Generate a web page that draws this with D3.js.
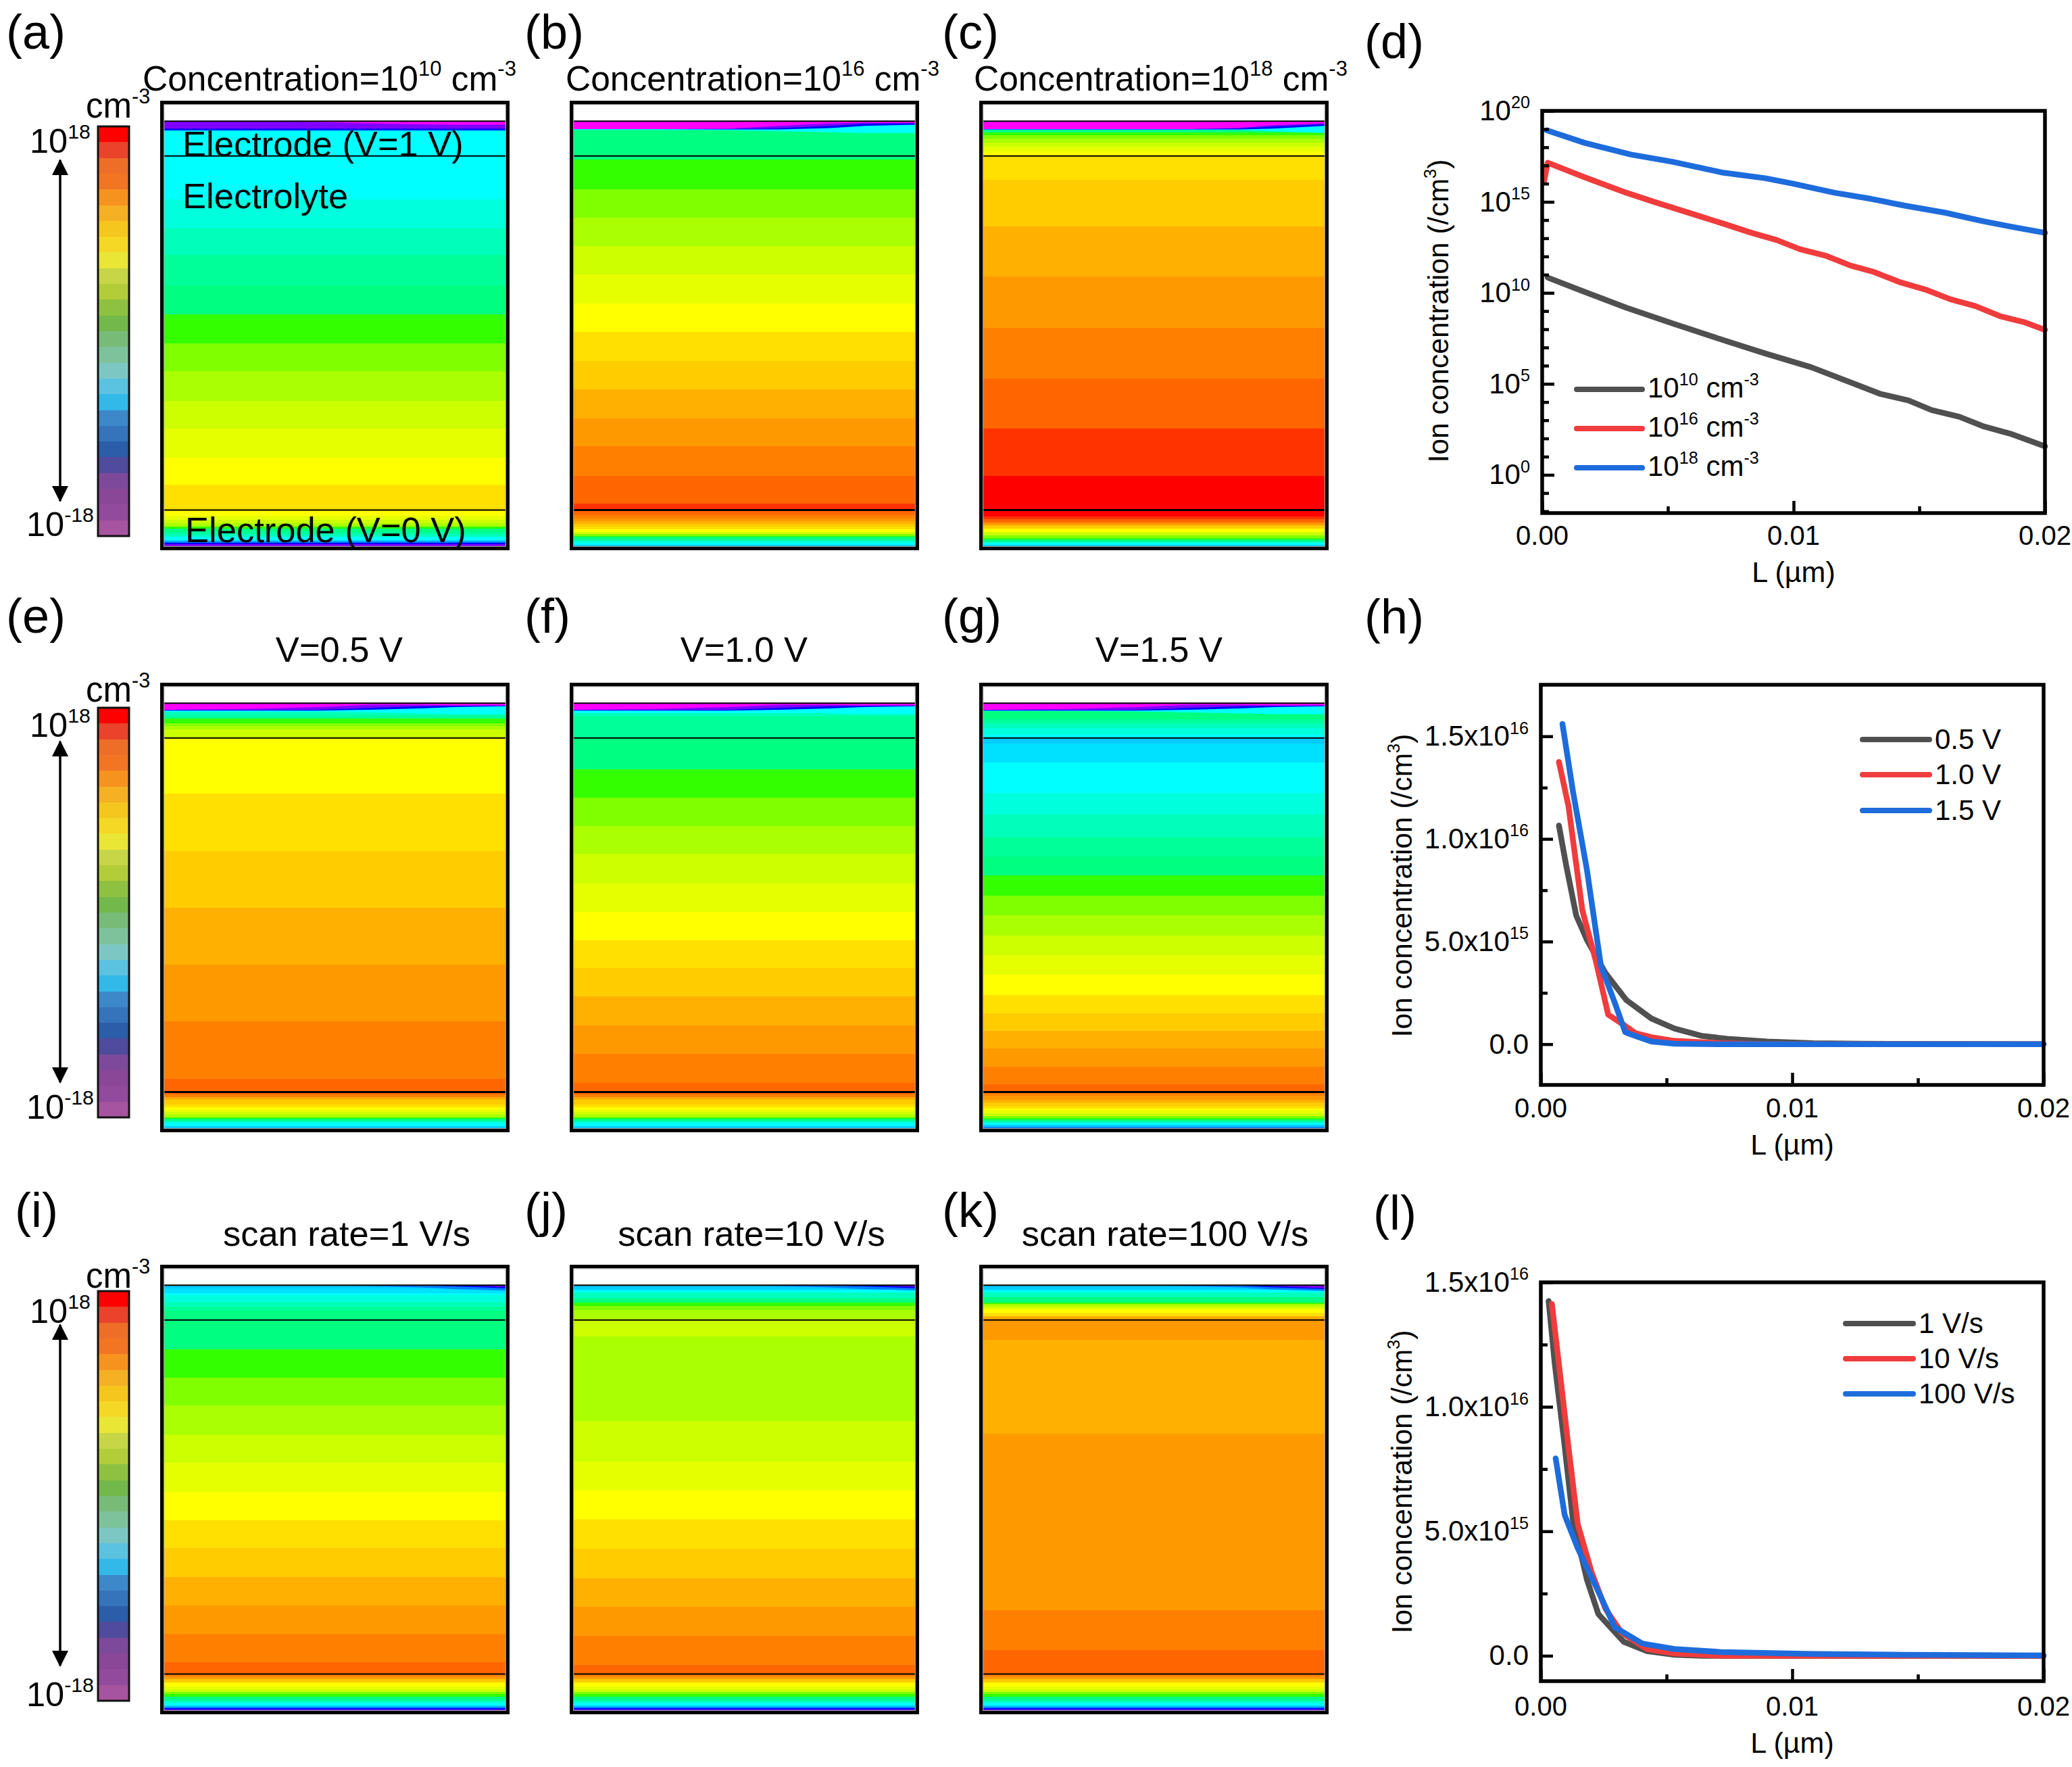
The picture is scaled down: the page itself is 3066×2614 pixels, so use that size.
<!DOCTYPE html>
<meta charset="utf-8">
<style>
html, body { margin: 0; background: #fff; }
text { font-family: "Liberation Sans", Arial, sans-serif; fill: #000; }
.band { shape-rendering: crispEdges; }
</style>
<body>
<script src="https://d3js.org/d3.v7.min.js"></script>
<script>
// contour levels of the simulation maps, red (high) to magenta (low)
var levels = ["#ff0000","#ff3300","#ff6600","#ff8000","#ff9900","#ffb000","#ffcc00","#ffe000","#ffff00",
    "#e6ff00","#ccff00","#aaff00","#80ff00","#33ff00","#00ff80","#00ff99","#00ffbb","#00ffdd","#00ffff",
    "#00e0ff","#00ccff","#0080ff","#0000ff","#8000ff","#ff00ff"];

// colour bar, top to bottom
var colorbar = ["#ff0000","#e9432a","#ef6e27","#f27524","#f6931f","#f5b024","#f5c61e","#f5d726","#e9e636",
    "#c6d646","#b3cd38","#8fc140","#72b84a","#78bb78","#7cc39c","#7cc7c4","#5bc2e0","#32b9ea","#3d88c8",
    "#3574ba","#2a5ea8","#4f4b9d","#7d4a9b","#8a4798","#924a9c","#a6549f"];

// bands in the maps: [depth where the band ends (% of cell height), level]
var tailA = [[93.1,8],[94,9],[94.8,10],[95.5,11],[96,13],[96.6,14],[97.2,15],[97.8,16],[98.6,18],[99,20],[99.3,21],[99.6,22],[100,23]];
var tailB = [[93,2],[93.7,3],[94.4,4],[95,5],[95.6,6],[96.2,7],[96.8,8],[97.3,10],[97.7,12],[97.9,13],[98.4,14],[98.8,15],[99.2,17],[99.7,18],[100,20]];
var tailC = [[93.3,0],[93.9,1],[94.6,2],[95.3,4],[96,6],[96.8,8],[97.6,10],[98.2,12],[98.5,13],[98.9,14],[99.3,16],[99.7,18],[100,20]];
var tailE = [[92.3,2],[92.9,3],[93.6,5],[94.6,6],[95.2,7],[95.8,8],[96.4,9],[97,10],[97.6,11],[97.8,13],[98.1,14],[98.5,15],[99,17],[99.5,18],[100,20]];
var tailG = [[92.6,3],[93.5,4],[94.2,5],[95,6],[95.5,7],[96,8],[96.6,9],[97.2,10],[97.7,12],[98,13],[98.4,14],[98.8,16],[99.3,18],[99.7,20],[100,21]];
var tailJ = [[92.4,3],[93,4],[93.7,6],[94.7,8],[95.3,9],[95.8,10],[96.4,12],[97,13],[97.5,14],[98,15],[98.4,17],[98.9,18],[99.3,20],[99.6,21],[99.8,22],[100,23]];

var bandsA = [[21.4,18],[28,17],[34,16],[41,15],[47.5,14],[54,13],[60.3,12],[67,11],[73.4,10],[80,9],[86,8],[92,7]].concat(tailA);
var bandsB = [[12.4,14],[19.2,13],[25.5,12],[32,11],[38.5,10],[45,9],[51.4,8],[58,7],[64.4,6],[71,5],[77.4,4],[84,3],[90.4,2],[91.8,1]].concat(tailB);
var bandsC = [[6.3,14],[6.9,13],[7.6,12],[8.5,11],[9.5,10],[10.5,9],[11.7,8],[17,7],[27.5,6],[38.9,5],[50.5,4],[62,3],[73.4,2],[84,1],[91.8,0]].concat(tailC);
var bandsE = [[5.7,18],[6.5,16],[7.2,15],[8.2,13],[8.9,12],[9.7,11],[11.6,10],[24.2,8],[37.2,7],[50,6],[62.9,5],[75.8,4],[88.8,3],[91.8,2]].concat(tailE);
var bandsF = [[6,18],[6.6,16],[11.6,15],[18.7,14],[25.1,13],[31.5,12],[37.9,11],[44.6,10],[51,9],[57.5,8],[63.7,7],[70.2,6],[76.7,5],[83.1,4],[89.7,3],[91.8,2]].concat(tailE);
var bandsG = [[7.3,14],[8.3,15],[9.3,16],[10.9,17],[11.6,18],[12.9,20],[17.2,19],[24,18],[29,17],[34,16],[38.4,15],[42.8,14],[47.3,13],[51.8,12],[56.3,11],[60.8,10],[65.3,9],[69.8,8],[74,7],[78,6],[82,5],[86,4],[90,3],[91.8,2]].concat(tailG);
var bandsI = [[4.5,20],[5.5,19],[6,18],[7.5,17],[8.5,16],[9.5,15],[18.2,14],[24.7,13],[31,12],[37.6,11],[44,10],[50.5,9],[56.9,8],[63.3,7],[69.8,6],[76.2,5],[82.7,4],[89.1,3],[91.8,2]].concat(tailJ);
var bandsJ = [[4.7,20],[5.3,18],[6.7,16],[7.7,14],[8.4,13],[9.4,12],[11.4,11],[15.3,10],[34.5,11],[43.6,10],[50.3,9],[56.8,8],[63.4,7],[70.1,6],[76.5,5],[83.1,4],[89.7,3],[91.9,2]].concat(tailJ);
var bandsK = [[4.7,20],[5.3,18],[6.4,16],[7.6,14],[7.9,13],[8.4,11],[9.1,10],[10,8],[10.7,7],[11.4,5],[16.1,4],[37.4,5],[77.3,4],[86.4,3],[91.9,2]].concat(tailJ);

// top electrode wedges: [level, depth of the layer at each wedgeX]
var wedgeX = [0, 0.25, 0.45, 0.6, 0.75, 0.85, 1];
var topA = [[21,[5.9,5.9,5.9,5.9,5.9,5.9,5.9]],[22,[5.7,5.7,5.7,5.7,5.7,5.7,5.7]],[23,[5.4,5.4,5.4,5.4,5.4,5.4,5.4]],[24,[3.7,3.7,3.9,4.2,4.4,4.5,4.5]]];
var topB = [[18,[5.7,5.7,5.8,6,6.2,6.4,6.4]],[22,[5.5,5.5,5.6,5.6,5.3,4.8,4.5]],[23,[5.5,5.5,5.5,5.3,4.8,4.3,4.2]],[24,[5.5,5.5,5.4,4.8,4.2,4.1,4.1]]];
var topC = [[18,[5.7,5.7,5.7,5.7,5.7,6,6.4]],[22,[5.6,5.6,5.6,5.6,5.6,5.4,4.8]],[23,[5.5,5.5,5.5,5.5,5.4,4.9,4.4]],[24,[5.5,5.5,5.5,5.5,5.2,4.6,4.2]]];
var topE = [[18,[5.5,5.5,5.6,5.8,6,6.2,6.2]],[22,[5.4,5.4,5.4,5.2,4.9,4.6,4.4]],[23,[5.3,5.3,5.2,4.8,4.4,4.3,4.2]],[24,[5.2,5,4.6,4.1,4.1,4.2,4.2]]];
var topI = [[21,[3.7,3.7,3.7,3.9,4.2,4.6,4.9]],[22,[3.7,3.7,3.7,3.7,3.7,4,4.4]],[23,[3.7,3.7,3.7,3.7,3.7,3.7,4.1]]];
var topK = [[21,[3.7,3.7,3.7,3.9,4.2,4.7,5]],[22,[3.7,3.7,3.7,3.7,3.8,4.2,4.6]],[23,[3.7,3.7,3.7,3.7,3.7,3.9,4.4]]];

var mapLabels = ["a","b","c","e","f","g","i","j","k"];
var mapBands = [bandsA,bandsB,bandsC,bandsE,bandsF,bandsG,bandsI,bandsJ,bandsK];
var mapTops = [topA,topB,topC,topE,topE,topE,topI,topI,topK];
var mapTitles = ["Concentration=10^{10} cm^{-3}","Concentration=10^{16} cm^{-3}","Concentration=10^{18} cm^{-3}",
    "V=0.5 V","V=1.0 V","V=1.5 V","scan rate=1 V/s","scan rate=10 V/s","scan rate=100 V/s"];

// line plots. d: [L, log10 of concentration]; h and l: [L, concentration /1e15]
var d10 = [[0.00022,10.84],[0.00151,10.15],[0.00335,9.18],[0.00519,8.32],[0.00703,7.48],[0.00887,6.67],[0.01071,5.91],[0.01255,4.93],[0.01347,4.44],[0.01457,4.09],[0.01549,3.56],[0.0166,3.19],[0.01752,2.68],[0.01862,2.26],[0.02,1.57]];
var d16 = [[0.00007,16.1],[0.00022,17.15],[0.00169,16.35],[0.00335,15.5],[0.00445,15],[0.00537,14.6],[0.00629,14.2],[0.00721,13.8],[0.00832,13.3],[0.00933,12.9],[0.01025,12.4],[0.01126,12.05],[0.01227,11.5],[0.01319,11.15],[0.0142,10.6],[0.01531,10.15],[0.01623,9.65],[0.01724,9.27],[0.01825,8.7],[0.01917,8.39],[0.02,7.97]];
var d18 = [[0.00018,18.93],[0.00169,18.24],[0.00353,17.6],[0.00519,17.2],[0.00721,16.6],[0.00887,16.3],[0.00997,16],[0.01163,15.5],[0.0131,15.16],[0.01439,14.8],[0.01604,14.4],[0.01752,13.94],[0.0188,13.6],[0.02,13.3]];
var h05 = [[0.00072,10.65],[0.00101,8.7],[0.00141,6.26],[0.00183,5.09],[0.00257,3.47],[0.0034,2.15],[0.0044,1.25],[0.00532,0.76],[0.00642,0.4],[0.00752,0.25],[0.00899,0.13],[0.01083,0.05],[0.0127,0.02],[0.02,0]];
var h10 = [[0.00072,13.75],[0.0011,11.6],[0.00165,6.53],[0.0022,4],[0.00268,1.44],[0.0033,0.94],[0.00376,0.54],[0.0044,0.34],[0.00532,0.16],[0.00716,0.05],[0.00899,0],[0.02,0]];
var h15 = [[0.00086,15.6],[0.00128,12.3],[0.00183,8.52],[0.00239,3.83],[0.00294,2.02],[0.00336,0.58],[0.00385,0.36],[0.0044,0.13],[0.00532,0.02],[0.00716,0],[0.02,0]];
var l1 = [[0.00031,14.25],[0.00055,11.77],[0.00092,8.67],[0.00128,5.43],[0.00183,3.07],[0.00229,1.67],[0.0033,0.56],[0.00422,0.19],[0.00532,0.04],[0.00642,0],[0.02,0]];
var l10 = [[0.00044,14.13],[0.00073,11.62],[0.0011,8.38],[0.00147,5.28],[0.00202,3.36],[0.00257,1.89],[0.00321,0.93],[0.00422,0.27],[0.00532,0.09],[0.00716,0],[0.02,0]];
var l100 = [[0.00059,7.93],[0.00095,5.65],[0.00147,4.32],[0.0022,2.77],[0.00294,1.15],[0.00404,0.49],[0.00532,0.27],[0.00716,0.15],[0.01083,0.07],[0.0145,0.04],[0.02,0.015]];

var lineColors = ["#505050","#f03c3c","#1e6cdc"];
var xMajor = [0, 0.01, 0.02], xMinor = [0.005, 0.015], xLabels = ["0.00","0.01","0.02"];

var svg = d3.select("body").append("svg").attr("width", 3066).attr("height", 2614);

// text with ^{...} superscripts
function rich(g, str, x, y, size, anchor) {
    var t = g.append("text").attr("x", x).attr("y", y).attr("font-size", size)
        .attr("text-anchor", anchor || "start");
    var parts = str.split(/\^\{(.*?)\}/), up = size * 0.42, shifted = false;
    parts.forEach(function(p, i) {
        if (!p) return;
        var s = t.append("tspan").text(p);
        if (i % 2) { s.attr("font-size", size * 0.6).attr("dy", -up); shifted = true; }
        else if (shifted) { s.attr("dy", up); shifted = false; }
    });
    return t;
}

// ---- maps
var cols = [237, 843, 1449], rows = [149, 1010, 1871], cellW = 517, cellH = 665;
mapLabels.forEach(function(label, i) {
    var left = cols[i % 3], top = rows[Math.floor(i / 3)];
    var g = svg.append("g");
    var x = d3.scaleLinear().domain([0, 1]).range([left + 6, left + cellW - 6]);
    var depth = d3.scaleLinear().domain([0, 100]).range([top + 6, top + cellH - 6]);
    var start = 3.7;
    mapBands[i].forEach(function(b) {
        g.append("rect").attr("class", "band").attr("x", x(0)).attr("width", x(1) - x(0))
            .attr("y", depth(start)).attr("height", depth(b[0]) - depth(start) + 0.5)
            .attr("fill", levels[b[1]]);
        start = b[0];
    });
    mapTops[i].forEach(function(layer) {
        var area = d3.area().x(function(d, j) { return x(wedgeX[j]); })
            .y0(depth(3.7)).y1(function(d) { return depth(d); });
        g.append("path").attr("d", area(layer[1])).attr("fill", levels[layer[0]]);
    });
    [3.7, 11.6, 91.8].forEach(function(d, j) {
        g.append("line").attr("x1", x(0)).attr("x2", x(1)).attr("y1", depth(d)).attr("y2", depth(d))
            .attr("stroke", "#000").attr("stroke-width", j == 2 && i > 0 && i < 6 ? 3 : 2);
    });
    g.append("rect").attr("x", left + 5.5).attr("y", top + 5.5).attr("width", cellW - 11).attr("height", cellH - 11)
        .attr("fill", "none").attr("stroke", "#999").attr("stroke-width", 1.5);
    g.append("rect").attr("x", left + 2.5).attr("y", top + 2.5).attr("width", cellW - 5).attr("height", cellH - 5)
        .attr("fill", "none").attr("stroke", "#000").attr("stroke-width", 5);
});

// panel titles
var titleX = [211, 837, 1441, 502, 1101, 1715, 513, 1112, 1724], titleY = [134, 979, 1843];
mapTitles.forEach(function(t, i) {
    rich(svg, t, titleX[i], titleY[Math.floor(i / 3)], i < 3 ? 51.5 : 52.5, i < 3 ? "start" : "middle");
});

rich(svg, "Electrode (V=1 V)", 270, 231, 52.5);
rich(svg, "Electrolyte", 270, 308, 52.5);
rich(svg, "Electrode (V=0 V)", 274, 802, 52.5);

// panel letters
var letterNames = ["(a)","(b)","(c)","(d)","(e)","(f)","(g)","(h)","(i)","(j)","(k)","(l)"];
var letterX = [9, 776, 1394, 2019, 9, 776, 1394, 2019, 22, 776, 1394, 2032];
var letterY = [72, 72, 72, 86, 936, 936, 936, 937, 1815, 1815, 1815, 1819];
letterNames.forEach(function(t, i) { rich(svg, t, letterX[i], letterY[i], 72); });

// ---- colour bars and double arrows
svg.append("defs").append("marker").attr("id", "head").attr("viewBox", "0 0 24 24")
    .attr("refX", 22).attr("refY", 12).attr("markerUnits", "userSpaceOnUse")
    .attr("markerWidth", 24).attr("markerHeight", 24).attr("orient", "auto-start-reverse")
    .append("path").attr("d", "M0,0L24,12L0,24Z").attr("fill", "#000");
var barShift = [0, 860, 1723], labelShift = [0, 864, 1731], lowShift = [0, 862, 1731];
barShift.forEach(function(dy, r) {
    var barY = d3.scaleBand().domain(d3.range(colorbar.length)).range([187 + dy, 793 + dy]);
    var g = svg.append("g");
    g.selectAll("rect").data(colorbar).enter().append("rect").attr("class", "band")
        .attr("x", 145).attr("width", 46)
        .attr("y", function(d, i) { return barY(i); }).attr("height", barY.bandwidth() + 0.5)
        .attr("fill", function(d) { return d; });
    g.append("rect").attr("x", 145).attr("y", 187 + dy).attr("width", 46).attr("height", 606)
        .attr("fill", "none").attr("stroke", "#111").attr("stroke-width", 3);
    g.append("line").attr("x1", 89).attr("x2", 89).attr("y1", 237 + dy).attr("y2", 741 + dy)
        .attr("stroke", "#000").attr("stroke-width", 3.5)
        .attr("marker-start", "url(#head)").attr("marker-end", "url(#head)");
    rich(svg, "cm^{-3}", 127, 174 + labelShift[r], 51);
    rich(svg, "10^{18}", 44, 226 + labelShift[r], 50.5);
    rich(svg, "10^{-18}", 39, 793 + lowShift[r], 50.5);
});

// ---- line plots
function linePlot(o) {
    var x = d3.scaleLinear().domain([0, 0.02]).range([o.left, o.right]);
    var y = o.y.range([o.bottom, o.top]);
    var g = svg.append("g");
    var line = d3.line().x(function(d) { return x(d[0]); }).y(function(d) { return y(o.val(d[1])); });
    o.series.forEach(function(s, i) {
        g.append("path").attr("d", line(s)).attr("fill", "none").attr("stroke", lineColors[i])
            .attr("stroke-width", 8.5).attr("stroke-linejoin", "round").attr("stroke-linecap", "round");
    });
    // ticks point inwards
    function ticks(axis, vals, len, tr) {
        var a = g.append("g").attr("transform", tr)
            .call(axis.tickValues(vals).tickFormat("").tickSizeInner(-len).tickSizeOuter(0));
        a.select(".domain").remove();
        a.selectAll("line").attr("stroke", "#000").attr("stroke-width", 4.5);
    }
    var tb = "translate(0," + o.bottom + ")", tl = "translate(" + o.left + ",0)";
    ticks(d3.axisBottom(x), xMajor, 18, tb);
    ticks(d3.axisBottom(x), xMinor, 10, tb);
    ticks(d3.axisLeft(y), o.major, 18, tl);
    ticks(d3.axisLeft(y), o.minor, 10, tl);
    g.append("rect").attr("x", o.left).attr("y", o.top).attr("width", o.right - o.left).attr("height", o.bottom - o.top)
        .attr("fill", "none").attr("stroke", "#000").attr("stroke-width", 5.5);
    xMajor.forEach(function(v, i) {
        rich(g, xLabels[i], x(v), o.bottom + o.xLabelGap, 40, "middle");
    });
    rich(g, "L (µm)", x(0.01), o.bottom + o.xLabelGap + 55, 43, "middle");
    o.major.forEach(function(v, i) {
        rich(g, o.yLabels[i], o.left - 18, y(v) + 14, 42, "end");
    });
    rich(g, "Ion concentration (/cm^{3})", 0, 0, 42.5, "middle")
        .attr("transform", "translate(" + o.yTitle[0] + "," + o.yTitle[1] + ") rotate(-90)");
    o.legend.forEach(function(t, i) {
        var ly = o.legendY[i];
        g.append("line").attr("x1", o.legendX[0]).attr("x2", o.legendX[1]).attr("y1", ly).attr("y2", ly)
            .attr("stroke", lineColors[i]).attr("stroke-width", 8).attr("stroke-linecap", "round");
        rich(g, t, o.legendX[2], ly + o.legendDy, 42);
    });
}

var pow10 = function(e) { return Math.pow(10, e); };
var per1e15 = function(v) { return v * 1e15; };

linePlot({
    left: 2282, right: 3026, top: 164, bottom: 759, xLabelGap: 47,
    y: d3.scaleLog().domain([pow10(-2.1), 1e20]), val: pow10, series: [d10, d16, d18],
    major: [1, 1e5, 1e10, 1e15, 1e20],
    minor: d3.range(-2, 20).filter(function(e) { return e % 5; }).map(pow10),
    yLabels: ["10^{0}","10^{5}","10^{10}","10^{15}","10^{20}"],
    yTitle: [2143, 460],
    legend: ["10^{10} cm^{-3}","10^{16} cm^{-3}","10^{18} cm^{-3}"],
    legendX: [2333, 2430, 2438], legendY: [576, 634, 692], legendDy: 12
});
linePlot({
    left: 2280, right: 3024, top: 1013, bottom: 1605, xLabelGap: 48,
    y: d3.scaleLinear().domain([-1.986e15, 1.751e16]), val: per1e15, series: [h05, h10, h15],
    major: [0, 5e15, 1e16, 1.5e16], minor: [2.5e15, 7.5e15, 1.25e16],
    yLabels: ["0.0","5.0x10^{15}","1.0x10^{16}","1.5x10^{16}"],
    yTitle: [2089, 1310],
    legend: ["0.5 V","1.0 V","1.5 V"],
    legendX: [2756, 2855, 2863], legendY: [1094, 1146, 1199], legendDy: 14
});
linePlot({
    left: 2280, right: 3024, top: 1897, bottom: 2487, xLabelGap: 51,
    y: d3.scaleLinear().domain([-1.02e15, 1.5e16]), val: per1e15, series: [l1, l10, l100],
    major: [0, 5e15, 1e16, 1.5e16], minor: [2.5e15, 7.5e15, 1.25e16],
    yLabels: ["0.0","5.0x10^{15}","1.0x10^{16}","1.5x10^{16}"],
    yTitle: [2089, 2192],
    legend: ["1 V/s","10 V/s","100 V/s"],
    legendX: [2731, 2831, 2839], legendY: [1958, 2010, 2062], legendDy: 14
});
</script>
</body>
